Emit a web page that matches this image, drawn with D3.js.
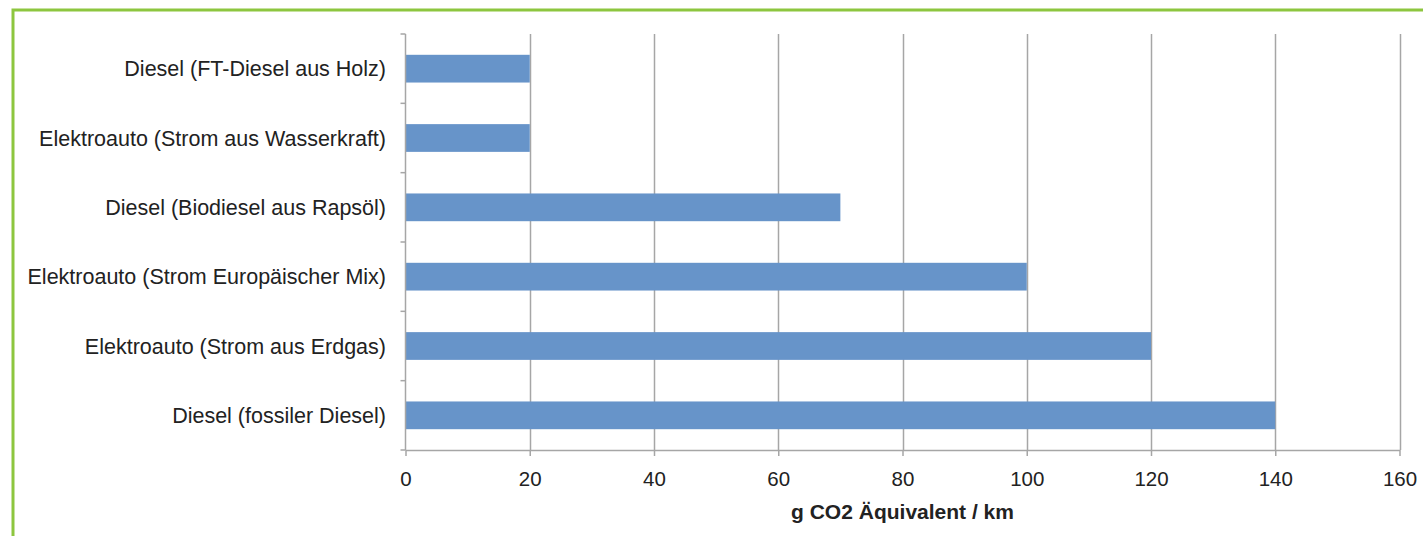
<!DOCTYPE html>
<html lang="de">
<head>
<meta charset="UTF-8" />
<title>CO2 pro km</title>
<script src="https://d3js.org/d3.v7.min.js"></script>
<style>
  body { margin: 0; background: #fff; }
  text { font-family: "Liberation Sans", Arial, sans-serif; fill: #222; }
</style>
</head>
<body>
<script>
// Kategorien von oben nach unten
var categories = [
  "Diesel (FT-Diesel aus Holz)",
  "Elektroauto (Strom aus Wasserkraft)",
  "Diesel (Biodiesel aus Rapsöl)",
  "Elektroauto (Strom Europäischer Mix)",
  "Elektroauto (Strom aus Erdgas)",
  "Diesel (fossiler Diesel)"
];
var values = [20, 20, 70, 100, 120, 140];
var xTicks = [0, 20, 40, 60, 80, 100, 120, 140, 160];
var xTitle = "g CO2 Äquivalent / km";

var W = 1423, H = 536;
var pLeft = 405.5, pRight = 1399.5, pTop = 34, pBottom = 450;

var svg = d3.select("body").append("svg").attr("width", W).attr("height", H);

// gruener Rahmen
svg.append("rect").attr("x", 13).attr("y", 10).attr("width", W + 20).attr("height", H + 20)
  .attr("fill", "none").attr("stroke", "#8dc63f").attr("stroke-width", 3);

var x = d3.scaleLinear().domain([0, 160]).range([pLeft, pRight]);
var y = d3.scaleBand().domain(categories).range([pTop, pBottom]).paddingInner(0.6).paddingOuter(0.3);
var band = d3.scaleBand().domain(categories).range([pTop, pBottom]);

// Gitterlinien
svg.append("g").selectAll("line").data(xTicks.slice(1)).join("line")
  .attr("x1", d => Math.round(x(d)) + 0.5).attr("x2", d => Math.round(x(d)) + 0.5)
  .attr("y1", pTop).attr("y2", pBottom)
  .attr("stroke", "#a6a6a6").attr("stroke-width", 1.5);

// Balken
svg.append("g").selectAll("rect").data(values).join("rect")
  .attr("x", x(0))
  .attr("y", (d, i) => y(categories[i]))
  .attr("width", d => x(d) - x(0))
  .attr("height", y.bandwidth())
  .attr("fill", "#6794c9");

// x-Achse
var gx = svg.append("g").attr("transform", "translate(0," + pBottom + ")")
  .call(d3.axisBottom(x).tickValues(xTicks).tickSize(6).tickPadding(15).tickSizeOuter(0));
gx.attr("font-size", 20.5).attr("font-family", "Liberation Sans, Arial, sans-serif");
gx.select(".domain").attr("stroke", "#a6a6a6").attr("stroke-width", 1.5);
gx.selectAll(".tick line").attr("stroke", "#a6a6a6").attr("stroke-width", 1.5);
gx.selectAll(".tick text").attr("fill", "#222");

// y-Achse
var yTickPos = categories.map(c => band(c)).concat([pBottom]);
var gy = svg.append("g");
gy.append("line").attr("x1", pLeft).attr("x2", pLeft).attr("y1", pTop).attr("y2", pBottom)
  .attr("stroke", "#a6a6a6").attr("stroke-width", 1.5);
gy.selectAll("line.t").data(yTickPos).join("line").attr("class", "t")
  .attr("x1", pLeft - 5).attr("x2", pLeft).attr("y1", d => d).attr("y2", d => d)
  .attr("stroke", "#a6a6a6").attr("stroke-width", 1.5);
gy.selectAll("text").data(categories).join("text")
  .attr("x", 386).attr("y", d => band(d) + band.bandwidth() / 2)
  .attr("dy", "0.35em").attr("text-anchor", "end").attr("font-size", 21.5)
  .text(d => d);

// Achsentitel
svg.append("text").attr("x", (pLeft + pRight) / 2).attr("y", 519)
  .attr("text-anchor", "middle").attr("font-size", 21).attr("font-weight", "bold")
  .text(xTitle);
</script>
</body>
</html>
